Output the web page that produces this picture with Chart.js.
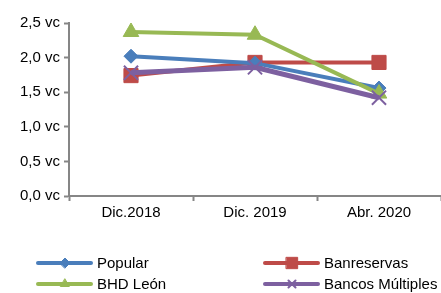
<!DOCTYPE html>
<html lang="es">
<head>
<meta charset="UTF-8">
<title>Bancos</title>
<script src="https://cdn.jsdelivr.net/npm/chart.js"></script>
<style>
  body { margin: 0; background: #fff; }
  #wrap { width: 441px; height: 293px; position: relative; }
</style>
</head>
<body>
<div id="wrap"><canvas id="chart" width="441" height="293"></canvas></div>
<script>
// datos
var categorias = ['Dic.2018', 'Dic. 2019', 'Abr. 2020'];
var popular = [2.02, 1.92, 1.56];
var banreservas = [1.74, 1.93, 1.93];
var bhdLeon = [2.37, 2.33, 1.48];
var bancosMultiples = [1.78, 1.86, 1.42];
var etiquetasY = ['0,0 vc', '0,5 vc', '1,0 vc', '1,5 vc', '2,0 vc', '2,5 vc'];

function serie(nombre, datos, color, punto, radio, ancho) {
    return {
        label: nombre,
        data: datos,
        borderColor: color,
        backgroundColor: color,
        borderWidth: ancho,
        pointStyle: punto,
        pointRadius: radio,
        pointBorderWidth: punto === 'crossRot' ? 2 : 1,
        tension: 0
    };
}

var series = [
    serie('Popular', popular, '#4a7ebb', 'rectRot', 7, 4),
    serie('Banreservas', banreservas, '#be4b48', 'rect', 10, 4),
    serie('BHD León', bhdLeon, '#98b954', 'triangle', 9, 4),
    serie('Bancos Múltiples', bancosMultiples, '#7d60a0', 'crossRot', 10, 5)
];
// orden de dibujo: el primero queda arriba
var ordenDibujo = [series[3], series[2], series[0], series[1]];
ordenDibujo.forEach(function (s, i) { s.order = i; });

// leyenda en dos columnas
var leyendaPlugin = {
    id: 'leyenda',
    afterDraw: function (chart) {
        var ctx = chart.ctx;
        var pos = [[38, 263], [265, 263], [38, 284], [265, 284]];
        series.forEach(function (s, i) {
            var x = pos[i][0], y = pos[i][1];
            ctx.save();
            ctx.strokeStyle = s.borderColor;
            ctx.lineWidth = 4;
            ctx.lineCap = 'round';
            ctx.beginPath();
            ctx.moveTo(x, y);
            ctx.lineTo(x + 53, y);
            ctx.stroke();
            ctx.fillStyle = s.borderColor;
            ctx.lineWidth = s.pointBorderWidth;
            Chart.helpers.drawPoint(ctx, {
                pointStyle: s.pointStyle,
                radius: s.pointStyle === 'rect' ? 8 : 5,
                borderWidth: s.pointBorderWidth
            }, x + 27, y);
            ctx.fillStyle = '#000';
            ctx.font = '15px "Liberation Sans", Arial, sans-serif';
            ctx.textBaseline = 'middle';
            ctx.fillText(s.label, x + 59, y + 1);
            ctx.restore();
        });
    }
};

var ctx = document.getElementById('chart').getContext('2d');
var chart = new Chart(ctx, {
    type: 'line',
    data: { labels: categorias, datasets: series },
    options: {
        responsive: false,
        animation: false,
        layout: { autoPadding: false, padding: { top: 23, right: -3, bottom: 68, left: 0 } },
        plugins: { legend: { display: false }, tooltip: { enabled: false } },
        scales: {
            x: {
                offset: true,
                afterFit: function (s) { s.paddingLeft = 0; s.paddingRight = 0; },
                grid: { offset: true, drawOnChartArea: false, color: '#868686', tickLength: 5, tickWidth: 2 },
                border: { color: '#868686', width: 2 },
                ticks: { color: '#000', font: { family: 'Liberation Sans', size: 15 }, padding: 3, maxRotation: 0 }
            },
            y: {
                min: 0, max: 2.5,
                afterFit: function (s) { s.width = 69; s.paddingTop = 0; s.paddingBottom = 0; },
                grid: { drawOnChartArea: false, color: '#868686', tickLength: 5, tickWidth: 2 },
                border: { color: '#868686', width: 2 },
                ticks: {
                    stepSize: 0.5,
                    color: '#000',
                    font: { family: 'Liberation Sans', size: 15 },
                    padding: 4,
                    callback: function (v, i) { return etiquetasY[i]; }
                }
            }
        }
    },
    plugins: [leyendaPlugin]
});
</script>
</body>
</html>
